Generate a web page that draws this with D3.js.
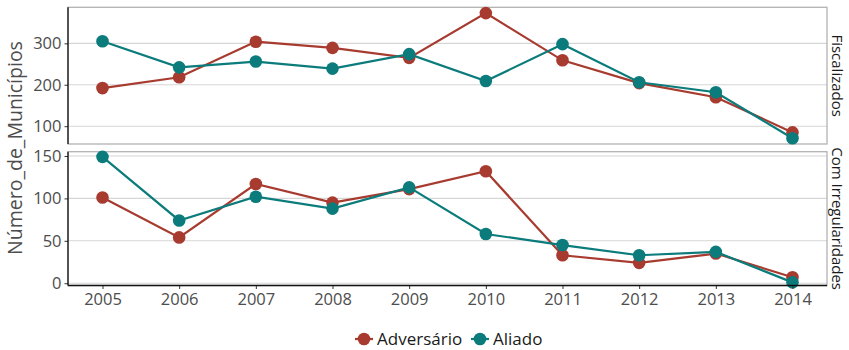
<!DOCTYPE html>
<html>
<head>
<meta charset="utf-8">
<script src="https://cdnjs.cloudflare.com/ajax/libs/d3/7.8.5/d3.min.js"></script>
<style>
  body { margin: 0; background: #fff; }
  svg text { font-family: "Open Sans", "Noto Sans", sans-serif; }
</style>
</head>
<body>
<div class="chart"></div>
<script>
var years = [2005, 2006, 2007, 2008, 2009, 2010, 2011, 2012, 2013, 2014];
var seriesNames = ["Adversário", "Aliado"];
var panelNames = ["Fiscalizados", "Com Irregularidades"];

var fiscAdversario = [192, 218, 304, 289, 265, 373, 259, 204, 170, 85];
var fiscAliado = [305, 242, 256, 239, 274, 209, 298, 206, 182, 71];
var irregAdversario = [101, 54, 117, 95, 111, 132, 33, 24, 35, 7];
var irregAliado = [149, 74, 102, 88, 113, 58, 45, 33, 37, 1];

var fiscTicks = [100, 200, 300];
var irregTicks = [0, 50, 100, 150];

var colors = { "Adversário": "#a83b30", "Aliado": "#0b7b7b" };

var svgWidth = 849, svgHeight = 350;
var left = 68, right = 827;

var svg = d3.select(".chart").append("svg")
  .attr("width", svgWidth)
  .attr("height", svgHeight);

var x = d3.scaleLinear()
  .domain([2005 - 0.45, 2014 + 0.45])
  .range([left, right]);

var panels = [
  { name: panelNames[0], top: 7.3, bottom: 144, domain: [57, 387], ticks: fiscTicks,
    data: [fiscAdversario, fiscAliado] },
  { name: panelNames[1], top: 151.7, bottom: 285.5, domain: [-2.7, 155.1], ticks: irregTicks,
    data: [irregAdversario, irregAliado] }
];

panels.forEach(function(p, pi) {
  var y = d3.scaleLinear().domain(p.domain).range([p.bottom, p.top]);
  var g = svg.append("g");

  // gridlines
  g.selectAll(".grid")
    .data(p.ticks)
    .enter()
    .append("line")
    .attr("x1", left).attr("x2", right)
    .attr("y1", d => y(d)).attr("y2", d => y(d))
    .attr("stroke", "#d6d6d6")
    .attr("stroke-width", 1.1);

  // panel border
  g.append("rect")
    .attr("x", left).attr("y", p.top)
    .attr("width", right - left).attr("height", p.bottom - p.top)
    .attr("fill", "none")
    .attr("stroke", "#b3b3b3")
    .attr("stroke-width", 1.3);

  // y axis
  var yAxis = g.append("g")
    .attr("transform", `translate(${left},0)`)
    .call(d3.axisLeft(y).tickValues(p.ticks).tickSize(3.5).tickPadding(3));
  yAxis.select(".domain").remove();
  yAxis.selectAll(".tick line").attr("stroke", "#333");
  yAxis.selectAll("text").attr("fill", "#4d4d4d").attr("font-size", "16.5px");
  g.append("line")
    .attr("x1", left).attr("x2", left)
    .attr("y1", p.top).attr("y2", p.bottom)
    .attr("stroke", "#111").attr("stroke-width", 1.3);

  // series
  p.data.forEach(function(vals, si) {
    var name = seriesNames[si];
    var pts = years.map((yr, i) => ({ year: yr, value: vals[i] }));
    g.append("path")
      .datum(pts)
      .attr("fill", "none")
      .attr("stroke", colors[name])
      .attr("stroke-width", 2.2)
      .attr("d", d3.line().x(d => x(d.year)).y(d => y(d.value)));
    g.selectAll(".pt" + si)
      .data(pts)
      .enter()
      .append("circle")
      .attr("cx", d => x(d.year))
      .attr("cy", d => y(d.value))
      .attr("r", 6.3)
      .attr("fill", colors[name]);
  });

  // strip label
  var cy = (p.top + p.bottom) / 2;
  svg.append("text")
    .attr("transform", `translate(${832},${cy}) rotate(90)`)
    .attr("text-anchor", "middle")
    .attr("font-size", "15px")
    .attr("fill", "#1a1a1a")
    .text(p.name);

  if (pi === 1) {
    var xAxis = g.append("g")
      .attr("transform", `translate(0,${p.bottom})`)
      .call(d3.axisBottom(x).tickValues(years).tickFormat(d3.format("d")).tickSize(3.5).tickPadding(4));
    xAxis.select(".domain").remove();
    xAxis.selectAll(".tick line").attr("stroke", "#333");
    xAxis.selectAll("text").attr("fill", "#4d4d4d").attr("font-size", "16.5px");
    g.append("line")
      .attr("x1", left).attr("x2", right)
      .attr("y1", p.bottom).attr("y2", p.bottom)
      .attr("stroke", "#111").attr("stroke-width", 1.3);
  }
});

// y axis title
svg.append("text")
  .attr("transform", `translate(${22},${148}) rotate(-90)`)
  .attr("text-anchor", "middle")
  .attr("font-size", "19.5px")
  .attr("fill", "#4d4d4d")
  .text("Número_de_Municípios");

// legend
var legendItems = [
  { name: seriesNames[0], x: 364 },
  { name: seriesNames[1], x: 480 }
];
var legend = svg.append("g");
legendItems.forEach(function(item) {
  legend.append("line")
    .attr("x1", item.x - 9).attr("x2", item.x + 9)
    .attr("y1", 339).attr("y2", 339)
    .attr("stroke", colors[item.name]).attr("stroke-width", 2.2);
  legend.append("circle")
    .attr("cx", item.x).attr("cy", 339).attr("r", 6.3)
    .attr("fill", colors[item.name]);
  legend.append("text")
    .attr("x", item.x + 13).attr("y", 339)
    .attr("dy", "0.35em")
    .attr("font-size", "17px")
    .attr("fill", "#1a1a1a")
    .text(item.name);
});
</script>
</body>
</html>
